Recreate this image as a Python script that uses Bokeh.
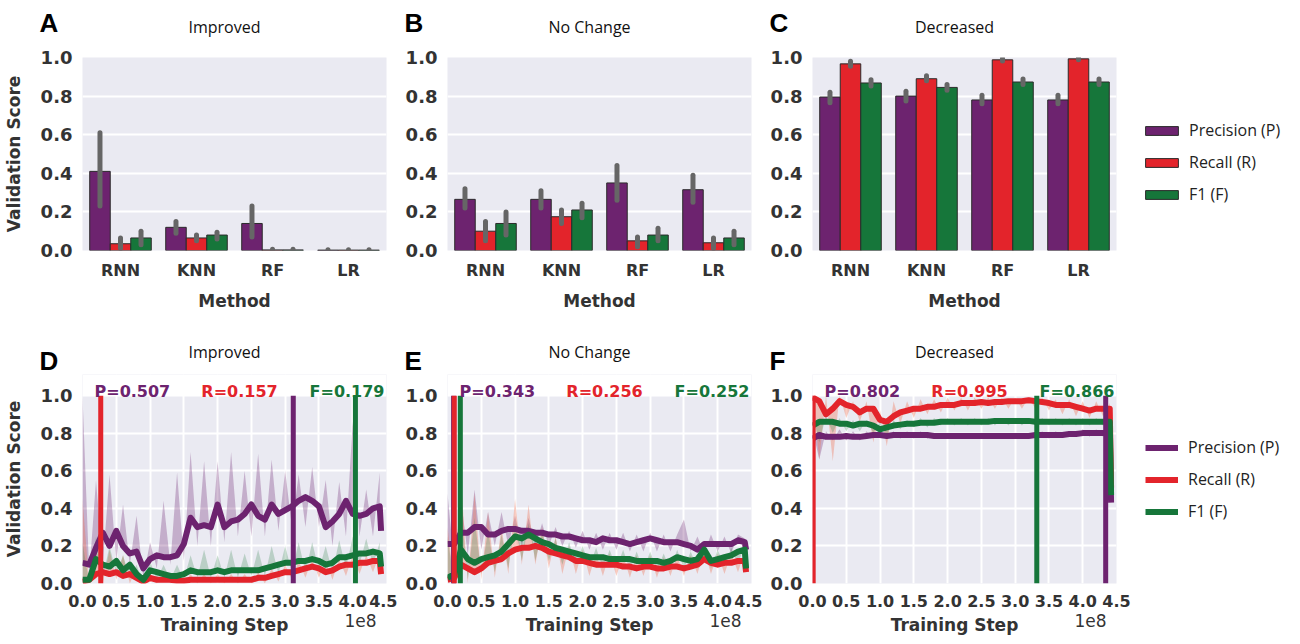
from bokeh.plotting import figure
from bokeh.models import (ColumnDataSource, Range1d, FixedTicker, Label, BoxAnnotation,
                          Legend, LegendItem, CustomJSTickFormatter)
from bokeh.transform import dodge
from bokeh.layouts import row, column
from bokeh.embed import file_html
from bokeh.resources import INLINE
from bokeh.core.properties import value

# ---------------- data ----------------
methods = ["RNN", "KNN", "RF", "LR"]
metric_labels = ["Precision (P)", "Recall (R)", "F1 (F)"]
panel_titles = ["Improved", "No Change", "Decreased"]
top_letters = ["A", "B", "C"]
bot_letters = ["D", "E", "F"]
yticks = [0.0, 0.2, 0.4, 0.6, 0.8, 1.0]
xticks_1e8 = [0.0, 0.5, 1.0, 1.5, 2.0, 2.5, 3.0, 3.5, 4.0, 4.5]

imp_P = [0.41, 0.12, 0.14, 0.002]
imp_P_lo = [0.23, 0.09, 0.07, 0.0]
imp_P_hi = [0.61, 0.15, 0.23, 0.004]
imp_R = [0.035, 0.065, 0.003, 0.002]
imp_R_lo = [0.01, 0.05, 0.0, 0.0]
imp_R_hi = [0.065, 0.08, 0.006, 0.004]
imp_F = [0.065, 0.08, 0.003, 0.002]
imp_F_lo = [0.03, 0.06, 0.0, 0.0]
imp_F_hi = [0.10, 0.095, 0.006, 0.004]

noc_P = [0.265, 0.265, 0.35, 0.315]
noc_P_lo = [0.22, 0.22, 0.26, 0.25]
noc_P_hi = [0.32, 0.31, 0.44, 0.39]
noc_R = [0.10, 0.175, 0.05, 0.04]
noc_R_lo = [0.05, 0.14, 0.02, 0.01]
noc_R_hi = [0.15, 0.21, 0.07, 0.065]
noc_F = [0.14, 0.21, 0.08, 0.065]
noc_F_lo = [0.08, 0.17, 0.05, 0.03]
noc_F_hi = [0.20, 0.245, 0.115, 0.10]

dec_P = [0.795, 0.80, 0.78, 0.78]
dec_P_lo = [0.765, 0.775, 0.76, 0.76]
dec_P_hi = [0.82, 0.825, 0.805, 0.805]
dec_R = [0.967, 0.89, 0.988, 0.993]
dec_R_lo = [0.955, 0.88, 0.982, 0.988]
dec_R_hi = [0.98, 0.905, 0.995, 0.998]
dec_F = [0.868, 0.845, 0.873, 0.873]
dec_F_lo = [0.852, 0.83, 0.86, 0.86]
dec_F_hi = [0.885, 0.86, 0.888, 0.888]

steps_1e8 = [0.0, 0.1, 0.2, 0.3, 0.4, 0.5, 0.6, 0.7, 0.8, 0.9,
             1.0, 1.1, 1.2, 1.3, 1.4, 1.5, 1.6, 1.7, 1.8, 1.9,
             2.0, 2.1, 2.2, 2.3, 2.4, 2.5, 2.6, 2.7, 2.8, 2.9,
             3.0, 3.1, 3.2, 3.3, 3.4, 3.5, 3.6, 3.7, 3.8, 3.9,
             4.0, 4.1, 4.2, 4.3, 4.4, 4.42]

imp_P_curve = [0.11, 0.10, 0.19, 0.27, 0.20, 0.28, 0.20, 0.16, 0.17, 0.08,
               0.13, 0.15, 0.14, 0.14, 0.15, 0.21, 0.35, 0.30, 0.31, 0.30,
               0.42, 0.30, 0.33, 0.34, 0.37, 0.42, 0.36, 0.34, 0.42, 0.37,
               0.39, 0.41, 0.44, 0.46, 0.44, 0.41, 0.30, 0.33, 0.37, 0.44,
               0.37, 0.36, 0.37, 0.40, 0.41, 0.28]
imp_R_curve = [0.01, 0.02, 0.05, 0.06, 0.05, 0.06, 0.04, 0.05, 0.03, 0.01,
               0.03, 0.02, 0.02, 0.02, 0.015, 0.015, 0.02, 0.02, 0.02, 0.02,
               0.02, 0.02, 0.02, 0.02, 0.02, 0.02, 0.03, 0.03, 0.04, 0.05,
               0.06, 0.06, 0.07, 0.08, 0.09, 0.08, 0.06, 0.07, 0.09, 0.10,
               0.10, 0.11, 0.11, 0.12, 0.12, 0.05]
imp_F_curve = [0.02, 0.02, 0.13, 0.10, 0.09, 0.12, 0.07, 0.10, 0.05, 0.02,
               0.07, 0.06, 0.05, 0.04, 0.04, 0.05, 0.07, 0.06, 0.06, 0.06,
               0.07, 0.06, 0.07, 0.07, 0.07, 0.07, 0.07, 0.08, 0.09, 0.10,
               0.11, 0.11, 0.12, 0.12, 0.13, 0.12, 0.10, 0.11, 0.14, 0.14,
               0.15, 0.16, 0.16, 0.17, 0.16, 0.09]

noc_P_curve = [0.21, 0.21, 0.27, 0.27, 0.30, 0.30, 0.26, 0.26, 0.28, 0.29,
               0.29, 0.28, 0.28, 0.27, 0.27, 0.26, 0.26, 0.25, 0.25, 0.24,
               0.23, 0.23, 0.22, 0.24, 0.23, 0.23, 0.22, 0.21, 0.22, 0.23,
               0.24, 0.23, 0.22, 0.22, 0.22, 0.21, 0.20, 0.18, 0.21, 0.21,
               0.21, 0.21, 0.21, 0.23, 0.22, 0.18]
noc_R_curve = [0.02, 0.03, 0.10, 0.08, 0.06, 0.08, 0.11, 0.12, 0.13, 0.16,
               0.18, 0.19, 0.19, 0.20, 0.19, 0.17, 0.16, 0.15, 0.14, 0.12,
               0.12, 0.11, 0.10, 0.10, 0.10, 0.10, 0.09, 0.09, 0.08, 0.09,
               0.09, 0.08, 0.08, 0.09, 0.09, 0.08, 0.09, 0.10, 0.13, 0.11,
               0.10, 0.11, 0.11, 0.12, 0.12, 0.06]
noc_F_curve = [0.03, 0.05, 0.18, 0.13, 0.11, 0.13, 0.14, 0.15, 0.17, 0.21,
               0.25, 0.24, 0.26, 0.24, 0.22, 0.21, 0.19, 0.18, 0.17, 0.16,
               0.15, 0.14, 0.14, 0.14, 0.13, 0.13, 0.13, 0.13, 0.12, 0.12,
               0.12, 0.12, 0.11, 0.12, 0.14, 0.13, 0.12, 0.13, 0.18, 0.12,
               0.13, 0.14, 0.15, 0.17, 0.18, 0.08]

dec_P_curve = [0.77, 0.79, 0.78, 0.78, 0.78, 0.785, 0.78, 0.78, 0.785, 0.79,
               0.79, 0.785, 0.79, 0.79, 0.79, 0.79, 0.79, 0.79, 0.785, 0.785,
               0.785, 0.785, 0.785, 0.785, 0.785, 0.785, 0.785, 0.785, 0.785, 0.785,
               0.785, 0.785, 0.785, 0.79, 0.79, 0.79, 0.79, 0.79, 0.795, 0.795,
               0.80, 0.80, 0.80, 0.80, 0.80, 0.43]
dec_R_curve = [0.99, 0.97, 0.90, 0.93, 0.97, 0.95, 0.94, 0.91, 0.93, 0.93,
               0.87, 0.86, 0.89, 0.91, 0.92, 0.93, 0.93, 0.94, 0.94, 0.95,
               0.95, 0.95, 0.96, 0.96, 0.96, 0.965, 0.96, 0.965, 0.965, 0.97,
               0.97, 0.97, 0.975, 0.97, 0.965, 0.96, 0.95, 0.95, 0.95, 0.94,
               0.93, 0.92, 0.93, 0.93, 0.93, 0.51]
dec_F_curve = [0.84, 0.86, 0.86, 0.86, 0.85, 0.85, 0.84, 0.85, 0.85, 0.84,
               0.82, 0.83, 0.84, 0.845, 0.85, 0.85, 0.855, 0.855, 0.855, 0.86,
               0.86, 0.86, 0.86, 0.86, 0.86, 0.86, 0.86, 0.865, 0.865, 0.865,
               0.865, 0.865, 0.865, 0.86, 0.86, 0.86, 0.86, 0.86, 0.86, 0.86,
               0.86, 0.86, 0.86, 0.86, 0.86, 0.47]

imp_P_raw = [1.0, 0.05, 0.55, 0.10, 0.58, 0.12, 0.42, 0.10, 0.36, 0.03,
             0.22, 0.08, 0.44, 0.10, 0.59, 0.12, 0.70, 0.20, 0.65, 0.20,
             0.65, 0.22, 0.70, 0.25, 0.60, 0.25, 0.69, 0.25, 0.66, 0.28,
             0.60, 0.30, 0.58, 0.30, 0.62, 0.30, 0.55, 0.20, 0.54, 0.25,
             0.86, 0.25, 0.50, 0.25, 0.59]
imp_R_raw = [0.45, 0.0, 0.20, 0.0, 0.18, 0.02, 0.15, 0.0, 0.08, 0.0,
             0.06, 0.0, 0.05, 0.0, 0.05, 0.0, 0.05, 0.0, 0.05, 0.0,
             0.05, 0.0, 0.05, 0.0, 0.05, 0.0, 0.06, 0.0, 0.08, 0.01,
             0.10, 0.02, 0.12, 0.03, 0.13, 0.03, 0.12, 0.02, 0.13, 0.04,
             0.15, 0.05, 0.15, 0.06, 0.16]
imp_F_raw = [0.22, 0.0, 0.25, 0.03, 0.20, 0.05, 0.15, 0.03, 0.10, 0.0,
             0.12, 0.02, 0.10, 0.02, 0.10, 0.02, 0.15, 0.03, 0.18, 0.03,
             0.15, 0.03, 0.18, 0.03, 0.16, 0.04, 0.18, 0.04, 0.20, 0.05,
             0.20, 0.06, 0.22, 0.06, 0.22, 0.07, 0.20, 0.06, 0.23, 0.08,
             0.25, 0.10, 0.24, 0.10, 0.22]

noc_P_raw = [0.48, 0.10, 0.45, 0.15, 0.50, 0.18, 0.38, 0.20, 0.38, 0.20,
             0.36, 0.20, 0.35, 0.20, 0.32, 0.20, 0.30, 0.20, 0.28, 0.19,
             0.28, 0.18, 0.27, 0.18, 0.27, 0.18, 0.27, 0.17, 0.26, 0.17,
             0.27, 0.17, 0.26, 0.17, 0.26, 0.34, 0.17, 0.25, 0.16, 0.26,
             0.17, 0.25, 0.16, 0.26, 0.24]
noc_R_raw = [0.30, 0.0, 0.56, 0.0, 0.48, 0.02, 0.38, 0.03, 0.30, 0.05,
             0.45, 0.10, 0.42, 0.10, 0.30, 0.08, 0.25, 0.05, 0.20, 0.05,
             0.18, 0.04, 0.16, 0.04, 0.16, 0.04, 0.15, 0.03, 0.15, 0.04,
             0.15, 0.03, 0.14, 0.04, 0.15, 0.04, 0.15, 0.05, 0.18, 0.05,
             0.16, 0.05, 0.16, 0.06, 0.17]
noc_F_raw = [0.25, 0.0, 0.40, 0.02, 0.35, 0.05, 0.28, 0.06, 0.26, 0.08,
             0.32, 0.12, 0.32, 0.12, 0.28, 0.12, 0.24, 0.10, 0.22, 0.10,
             0.20, 0.09, 0.19, 0.08, 0.18, 0.08, 0.18, 0.07, 0.17, 0.07,
             0.17, 0.07, 0.16, 0.07, 0.18, 0.08, 0.17, 0.08, 0.22, 0.08,
             0.18, 0.09, 0.19, 0.10, 0.21]

dec_P_raw = [0.82, 0.66, 0.81, 0.76, 0.82, 0.76, 0.81, 0.76, 0.81, 0.77,
             0.81, 0.77, 0.81, 0.77, 0.81, 0.77, 0.81, 0.77, 0.80, 0.77,
             0.80, 0.77, 0.80, 0.77, 0.80, 0.77, 0.80, 0.77, 0.80, 0.77,
             0.80, 0.77, 0.80, 0.77, 0.81, 0.77, 0.81, 0.78, 0.81, 0.78,
             0.82, 0.78, 0.82, 0.78, 0.82]
dec_R_raw = [1.0, 0.66, 1.0, 0.65, 1.0, 0.88, 0.97, 0.86, 0.97, 0.75,
             0.92, 0.73, 0.97, 0.85, 0.97, 0.88, 0.98, 0.90, 0.98, 0.91,
             0.99, 0.92, 0.99, 0.92, 0.99, 0.93, 0.99, 0.93, 0.99, 0.93,
             0.99, 0.93, 0.99, 0.93, 0.99, 0.92, 0.98, 0.90, 0.98, 0.89,
             0.97, 0.88, 0.97, 0.89, 0.96]
dec_F_raw = [0.90, 0.75, 0.89, 0.80, 0.88, 0.81, 0.87, 0.81, 0.87, 0.80,
             0.86, 0.79, 0.87, 0.82, 0.87, 0.83, 0.88, 0.83, 0.88, 0.84,
             0.88, 0.84, 0.88, 0.84, 0.88, 0.84, 0.88, 0.84, 0.88, 0.84,
             0.88, 0.84, 0.88, 0.84, 0.88, 0.84, 0.88, 0.84, 0.88, 0.84,
             0.88, 0.84, 0.88, 0.84, 0.88]

imp_best_step = [3.12, 0.27, 4.04]
imp_best_val = [0.507, 0.157, 0.179]
noc_best_step = [0.09, 0.10, 0.19]
noc_best_val = [0.343, 0.256, 0.252]
dec_best_step = [4.34, 0.01, 3.32]
dec_best_val = [0.802, 0.995, 0.866]

# ---------------- style / layout ----------------
PURPLE = "#6d236f"
RED = "#e3242b"
GREEN = "#16763a"
COLORS = [PURPLE, RED, GREEN]
RAW_COLORS = ["#6d236f", "#f07050", "#3d8a55"]
RAW_ALPHA = [0.3, 0.35, 0.28]
BG = "#eaeaf2"
TXT = "#333333"
EDGE = "#2b2b2b"
ERR = "#666666"

TOTAL_W = 1284
FW = 304
LEFTS = [72, 50, 50]
RIGHTS = [11, 11, 178]
FRAME_LEFT = [LEFTS[0], LEFTS[0] + FW + RIGHTS[0] + LEFTS[1],
              LEFTS[0] + FW + RIGHTS[0] + LEFTS[1] + FW + RIGHTS[1] + LEFTS[2]]
HEAD1_H = 39
TOP_BT, TOP_FH, TOP_BB = 18, 193, 72
HEAD2_H = 52
BOT_EXT = 21            # white strip above 1.0 that carries the best-score notes
BOT_FH = 188 + BOT_EXT
BOT_BB = 26
FOOT_H = 27


def style(p, xgrid):
    p.background_fill_color = BG
    p.border_fill_color = "white"
    p.outline_line_color = None
    for ax in p.axis:
        ax.axis_line_color = None
        ax.major_tick_line_color = None
        ax.minor_tick_line_color = None
        ax.major_label_text_font = "DejaVu Sans"
        ax.major_label_text_font_style = "bold"
        ax.major_label_text_color = TXT
        ax.axis_label_text_font = "DejaVu Sans"
        ax.axis_label_text_font_style = "bold"
        ax.axis_label_text_font_size = "17px"
        ax.axis_label_text_color = TXT
    p.yaxis.ticker = FixedTicker(ticks=yticks)
    p.yaxis.formatter = CustomJSTickFormatter(code="return tick.toFixed(1);")
    p.yaxis.major_label_text_font_size = "18px"
    p.yaxis.major_label_standoff = 4
    p.yaxis.axis_label_standoff = 14
    p.ygrid.ticker = FixedTicker(ticks=yticks)
    p.ygrid.grid_line_color = "white"
    p.ygrid.grid_line_width = 2
    if xgrid:
        p.xgrid.grid_line_color = "white"
        p.xgrid.grid_line_width = 2
    else:
        p.xgrid.grid_line_color = None


def text_fig(height):
    f = figure(width=TOTAL_W, height=height, x_range=Range1d(0, TOTAL_W),
               y_range=Range1d(0, height), output_backend="svg", toolbar_location=None,
               min_border=0, x_axis_location=None, y_axis_location=None)
    f.grid.visible = False
    f.outline_line_color = None
    f.background_fill_color = "white"
    return f


def put_text(f, xs, ys, texts, size, color, font, bold, align):
    f.text(x=xs, y=ys, text=texts, text_font=value(font), text_font_size=value(size),
           text_font_style=value("bold" if bold else "normal"), text_color=color,
           text_align=value(align), text_baseline=value("alphabetic"))


def make_legend(renderers, loc, gw, gh, standoff):
    return Legend(items=[LegendItem(label=metric_labels[k], renderers=[renderers[k]]) for k in range(3)],
                  location=loc, padding=0, margin=0, spacing=10,
                  glyph_width=gw, glyph_height=gh, label_standoff=standoff, label_height=20,
                  label_text_font="Open Sans", label_text_font_size="16px",
                  label_text_color="#222222", border_line_color=None,
                  background_fill_alpha=0)


def bar_panel(i, vals, ylabel, legend):
    P, Plo, Phi, R, Rlo, Rhi, F, Flo, Fhi = vals
    p = figure(frame_width=FW, frame_height=TOP_FH, x_range=methods,
               y_range=Range1d(0, 1), output_backend="svg", toolbar_location=None,
               min_border_left=LEFTS[i], min_border_right=RIGHTS[i],
               min_border_top=TOP_BT, min_border_bottom=TOP_BB)
    src = ColumnDataSource(dict(method=methods, P=P, Plo=Plo, Phi=Phi, R=R, Rlo=Rlo,
                                Rhi=Rhi, F=F, Flo=Flo, Fhi=Fhi))
    offs = [-0.27, 0.0, 0.27]
    rs = []
    for key, off, col in zip(["P", "R", "F"], offs, COLORS):
        rs.append(p.vbar(x=dodge("method", off, range=p.x_range), top=key, width=0.27,
                         source=src, fill_color=col, line_color=EDGE, line_width=1))
    for key, off in zip(["P", "R", "F"], offs):
        p.segment(x0=dodge("method", off, range=p.x_range), y0=key + "lo",
                  x1=dodge("method", off, range=p.x_range), y1=key + "hi",
                  source=src, line_color=ERR, line_width=5, line_cap="round")
    style(p, False)
    p.xaxis.major_label_text_font_size = "16px"
    p.xaxis.major_label_standoff = 4
    p.xaxis.axis_label = "Method"
    p.xaxis.axis_label_standoff = 8
    if ylabel:
        p.yaxis.axis_label = "Validation Score"
    if legend:
        p.add_layout(make_legend(rs, (25, 45), 41, 11, 7), "right")
    return p


def curve_panel(i, curves, raws, best_step, best_val, ylabel, legend):
    ytop = yticks[-1] * BOT_FH / (BOT_FH - BOT_EXT)
    p = figure(frame_width=FW, frame_height=BOT_FH,
               x_range=Range1d(0, 4.5e8), y_range=Range1d(0, ytop),
               output_backend="svg", toolbar_location=None,
               min_border_left=LEFTS[i], min_border_right=RIGHTS[i],
               min_border_top=0, min_border_bottom=BOT_BB)
    xs = [s * 1e8 for s in steps_1e8]
    # raw (unsmoothed) scores: light spiky area between raw value and smoothed curve
    for raw, cur, col, a in zip(raws, curves, RAW_COLORS, RAW_ALPHA):
        n = len(raw)
        p.varea(x=xs[:n], y1=raw, y2=cur[:n], fill_color=col, fill_alpha=a)
    rs = []
    for cur, col in zip(curves, COLORS):
        rs.append(p.line(xs, cur, line_color=col, line_width=6, line_join="round"))
    for bs, col in zip(best_step, COLORS):
        p.segment(x0=[bs * 1e8], y0=[yticks[0]], x1=[bs * 1e8], y1=[yticks[-1]],
                  line_color=col, line_width=5)
    p.add_layout(BoxAnnotation(bottom=yticks[-1], fill_color="white", fill_alpha=1.0,
                               line_color=None))
    style(p, True)
    p.xaxis.ticker = FixedTicker(ticks=[t * 1e8 for t in xticks_1e8])
    p.xgrid.ticker = FixedTicker(ticks=[t * 1e8 for t in xticks_1e8])
    p.xaxis.formatter = CustomJSTickFormatter(code="return (tick/1e8).toFixed(1);")
    p.xaxis.major_label_text_font_size = "16px"
    p.xaxis.major_label_standoff = 5
    if ylabel:
        p.yaxis.axis_label = "Validation Score"
    note_y = BOT_FH - BOT_EXT + 4
    for k, (prefix, col, x, align) in enumerate([("P", PURPLE, 12, "left"),
                                                 ("R", RED, FW / 2 + 5, "center"),
                                                 ("F", GREEN, FW - 2, "right")]):
        p.add_layout(Label(x=x, y=note_y, x_units="screen", y_units="screen",
                           text="%s=%.3f" % (prefix, best_val[k]), text_font="DejaVu Sans",
                           text_font_size="16px", text_font_style="bold", text_color=col,
                           text_align=align, text_baseline="alphabetic"))
    if legend:
        p.add_layout(make_legend(rs, (29, 61), 33, 11, 10), "right")
    return p


h1 = text_fig(HEAD1_H)
put_text(h1, [fl - 33 for fl in FRAME_LEFT], [17, 17, 17], top_letters, "26px", "black",
         "Liberation Sans", True, "left")
put_text(h1, [fl + FW / 2 for fl in FRAME_LEFT], [13, 13, 13], panel_titles, "16px", "#111111",
         "Open Sans", False, "center")

pA = bar_panel(0, [imp_P, imp_P_lo, imp_P_hi, imp_R, imp_R_lo, imp_R_hi, imp_F, imp_F_lo, imp_F_hi], True, False)
pB = bar_panel(1, [noc_P, noc_P_lo, noc_P_hi, noc_R, noc_R_lo, noc_R_hi, noc_F, noc_F_lo, noc_F_hi], False, False)
pC = bar_panel(2, [dec_P, dec_P_lo, dec_P_hi, dec_R, dec_R_lo, dec_R_hi, dec_F, dec_F_lo, dec_F_hi], False, True)

h2 = text_fig(HEAD2_H)
put_text(h2, [fl - 33 for fl in FRAME_LEFT], [14, 14, 14], bot_letters, "26px", "black",
         "Liberation Sans", True, "left")
put_text(h2, [fl + FW / 2 for fl in FRAME_LEFT], [23, 23, 23], panel_titles, "16px", "#111111",
         "Open Sans", False, "center")

pD = curve_panel(0, [imp_P_curve, imp_R_curve, imp_F_curve], [imp_P_raw, imp_R_raw, imp_F_raw],
                 imp_best_step, imp_best_val, True, False)
pE = curve_panel(1, [noc_P_curve, noc_R_curve, noc_F_curve], [noc_P_raw, noc_R_raw, noc_F_raw],
                 noc_best_step, noc_best_val, False, False)
pF = curve_panel(2, [dec_P_curve, dec_R_curve, dec_F_curve], [dec_P_raw, dec_R_raw, dec_F_raw],
                 dec_best_step, dec_best_val, False, True)

foot = text_fig(FOOT_H)
put_text(foot, [fl + FW / 2 for fl in FRAME_LEFT], [12, 12, 12], ["Training Step"] * 3, "17px", TXT,
         "DejaVu Sans", True, "center")
put_text(foot, [fl + FW for fl in FRAME_LEFT], [16, 16, 16], ["1e8"] * 3, "17px", TXT,
         "DejaVu Sans", False, "right")

layout = column(h1, row(pA, pB, pC, spacing=0), h2, row(pD, pE, pF, spacing=0), foot, spacing=0)

open("out.html", "w").write(file_html(layout, INLINE))
